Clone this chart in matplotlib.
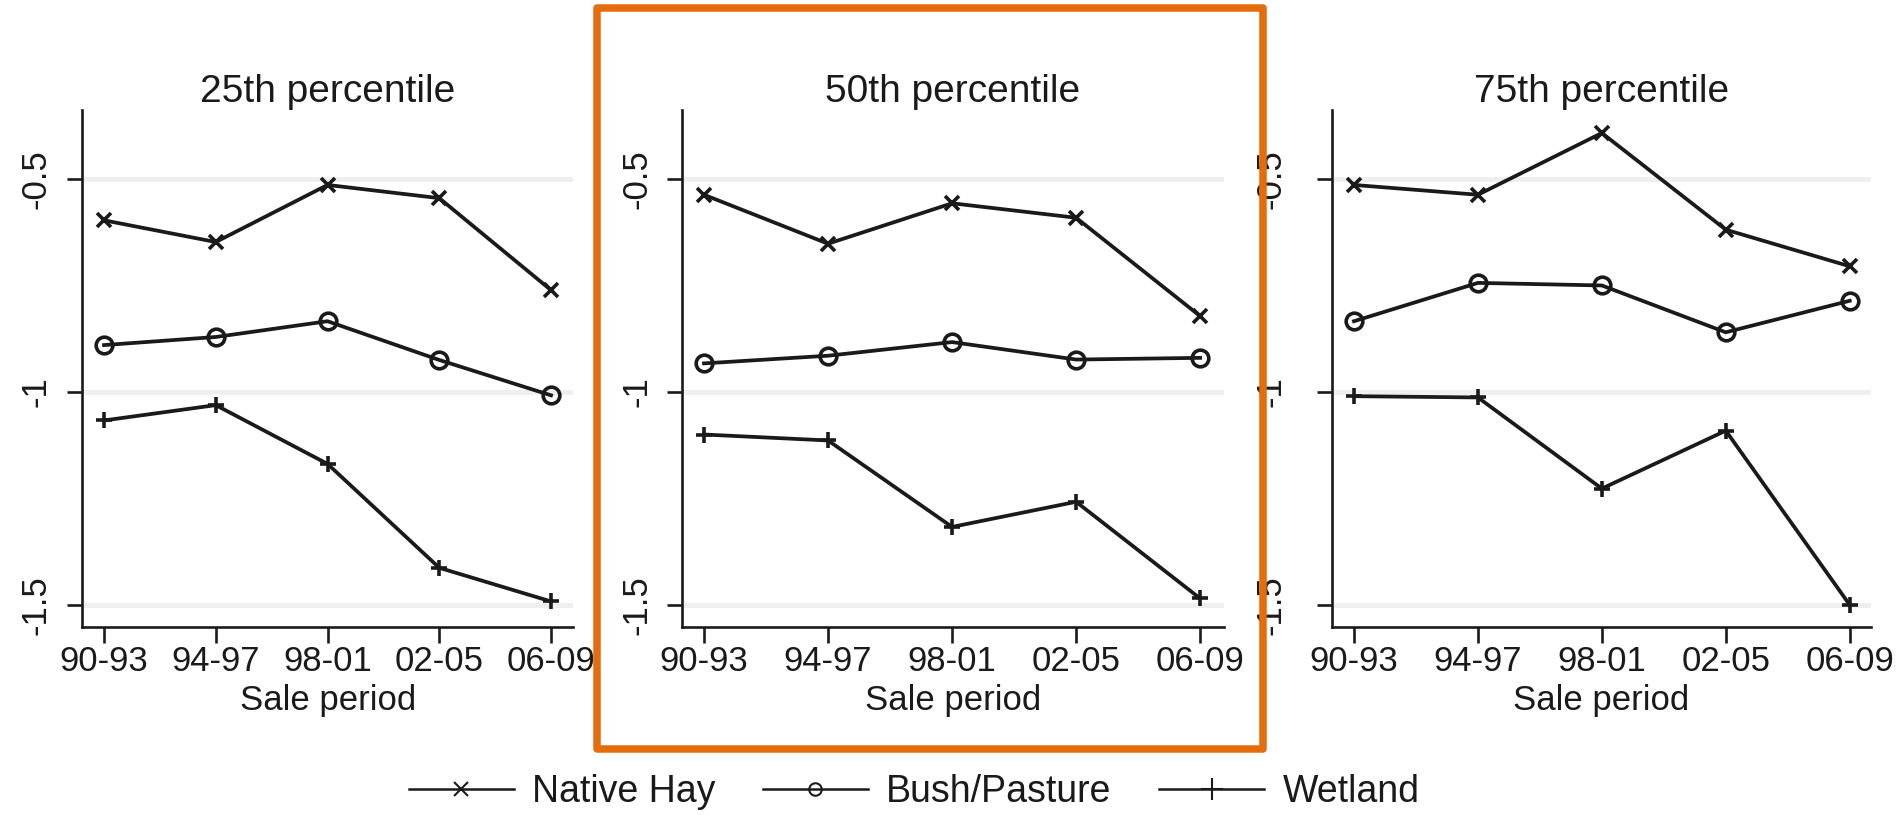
import matplotlib
matplotlib.use("Agg")
import matplotlib.pyplot as plt
from matplotlib.lines import Line2D
from matplotlib.patches import Rectangle

plt.rcParams['font.family'] = ['Liberation Sans', 'DejaVu Sans']

periods = ["90-93", "94-97", "98-01", "02-05", "06-09"]
titles = ["25th percentile", "50th percentile", "75th percentile"]
series_names = ["Native Hay", "Bush/Pasture", "Wetland"]

native_hay = [
    [-0.597, -0.648, -0.514, -0.545, -0.761],
    [-0.537, -0.652, -0.557, -0.591, -0.822],
    [-0.514, -0.537, -0.392, -0.619, -0.705],
]
bush_pasture = [
    [-0.890, -0.871, -0.834, -0.925, -1.008],
    [-0.933, -0.915, -0.883, -0.924, -0.920],
    [-0.834, -0.744, -0.750, -0.860, -0.786],
]
wetland = [
    [-1.067, -1.031, -1.169, -1.413, -1.492],
    [-1.100, -1.114, -1.317, -1.258, -1.485],
    [-1.010, -1.013, -1.227, -1.091, -1.500],
]
yticks = [-1.5, -1.0, -0.5]
ytick_labels = ["-1.5", "-1", "-0.5"]

W, H = 1899, 815
fig = plt.figure(figsize=(W / 100, H / 100), dpi=100)

ink = '#1a1a1a'
# (left px, width px, xlim)
panels = [
    (82.0, 491.5, (-0.197, 4.201)),
    (682.4, 541.2, (-0.174, 4.189)),
    (1331.7, 539.3, (-0.180, 4.172)),
]
ax_bottom_px, ax_top_px = 627.0, 110.0
markers = ['x', 'o', '+']
msizes = [9.5, 12, 12]
data_all = [native_hay, bush_pasture, wetland]

axes = []
for i, (lpx, wpx, xl) in enumerate(panels):
    ax = fig.add_axes([lpx / W, 1 - ax_bottom_px / H, wpx / W, (ax_bottom_px - ax_top_px) / H])
    axes.append(ax)
    x = list(range(len(periods)))
    for s, dat in enumerate(data_all):
        ax.plot(x, dat[i], color=ink, lw=2.7, marker=markers[s], markersize=msizes[s],
                markeredgewidth=2.6, markerfacecolor='none', markeredgecolor=ink,
                solid_joinstyle='miter', zorder=3)
    ax.set_xlim(*xl)
    ax.set_ylim(-1.552, -0.338)
    ax.set_xticks(x)
    ax.set_xticklabels(periods)
    ax.set_yticks(yticks)
    ax.set_yticklabels(ytick_labels)
    ax.grid(axis='y', color='#efefef', lw=3.5)
    ax.set_axisbelow(True)
    for sp in ['top', 'right']:
        ax.spines[sp].set_visible(False)
    for sp in ['left', 'bottom']:
        ax.spines[sp].set_linewidth(1.9)
        ax.spines[sp].set_color(ink)
    ax.tick_params(axis='x', length=11.5, width=1.9, color=ink, labelsize=25,
                   labelcolor=ink, pad=1.5)
    ax.tick_params(axis='y', length=10.6, width=1.9, color=ink, labelsize=25,
                   labelcolor=ink, labelrotation=90, pad=(21 if i == 2 else 10.5))
    for lab in ax.get_yticklabels():
        lab.set_va('center')
    ax.set_xlabel("Sale period", fontsize=25, color=ink, labelpad=4)
    ax.set_title(titles[i], fontsize=28, color=ink, pad=4)

# legend
handles = []
leg_ms = [10, 9, 16]
for s in range(3):
    handles.append(Line2D([], [], color=ink, lw=1.8, marker=markers[s], markersize=leg_ms[s],
                          markeredgewidth=1.5, markerfacecolor='none', markeredgecolor=ink))
fig.legend(handles, series_names, loc='center', bbox_to_anchor=(914 / W, 1 - 792 / H),
           ncol=3, frameon=False, fontsize=27, handlelength=2.8, handletextpad=0.48,
           columnspacing=1.28, labelcolor=ink)

# orange highlight box
x0, x1 = 596.7, 1262.7
y0, y1 = 8.3, 749.0
rect = Rectangle((x0 / W, 1 - y1 / H), (x1 - x0) / W, (y1 - y0) / H,
                 transform=fig.transFigure, fill=False, edgecolor='#E46C0A',
                 lw=5.4, joinstyle='round', zorder=20)
fig.add_artist(rect)

fig.savefig("out.png", dpi=100, facecolor='white')
